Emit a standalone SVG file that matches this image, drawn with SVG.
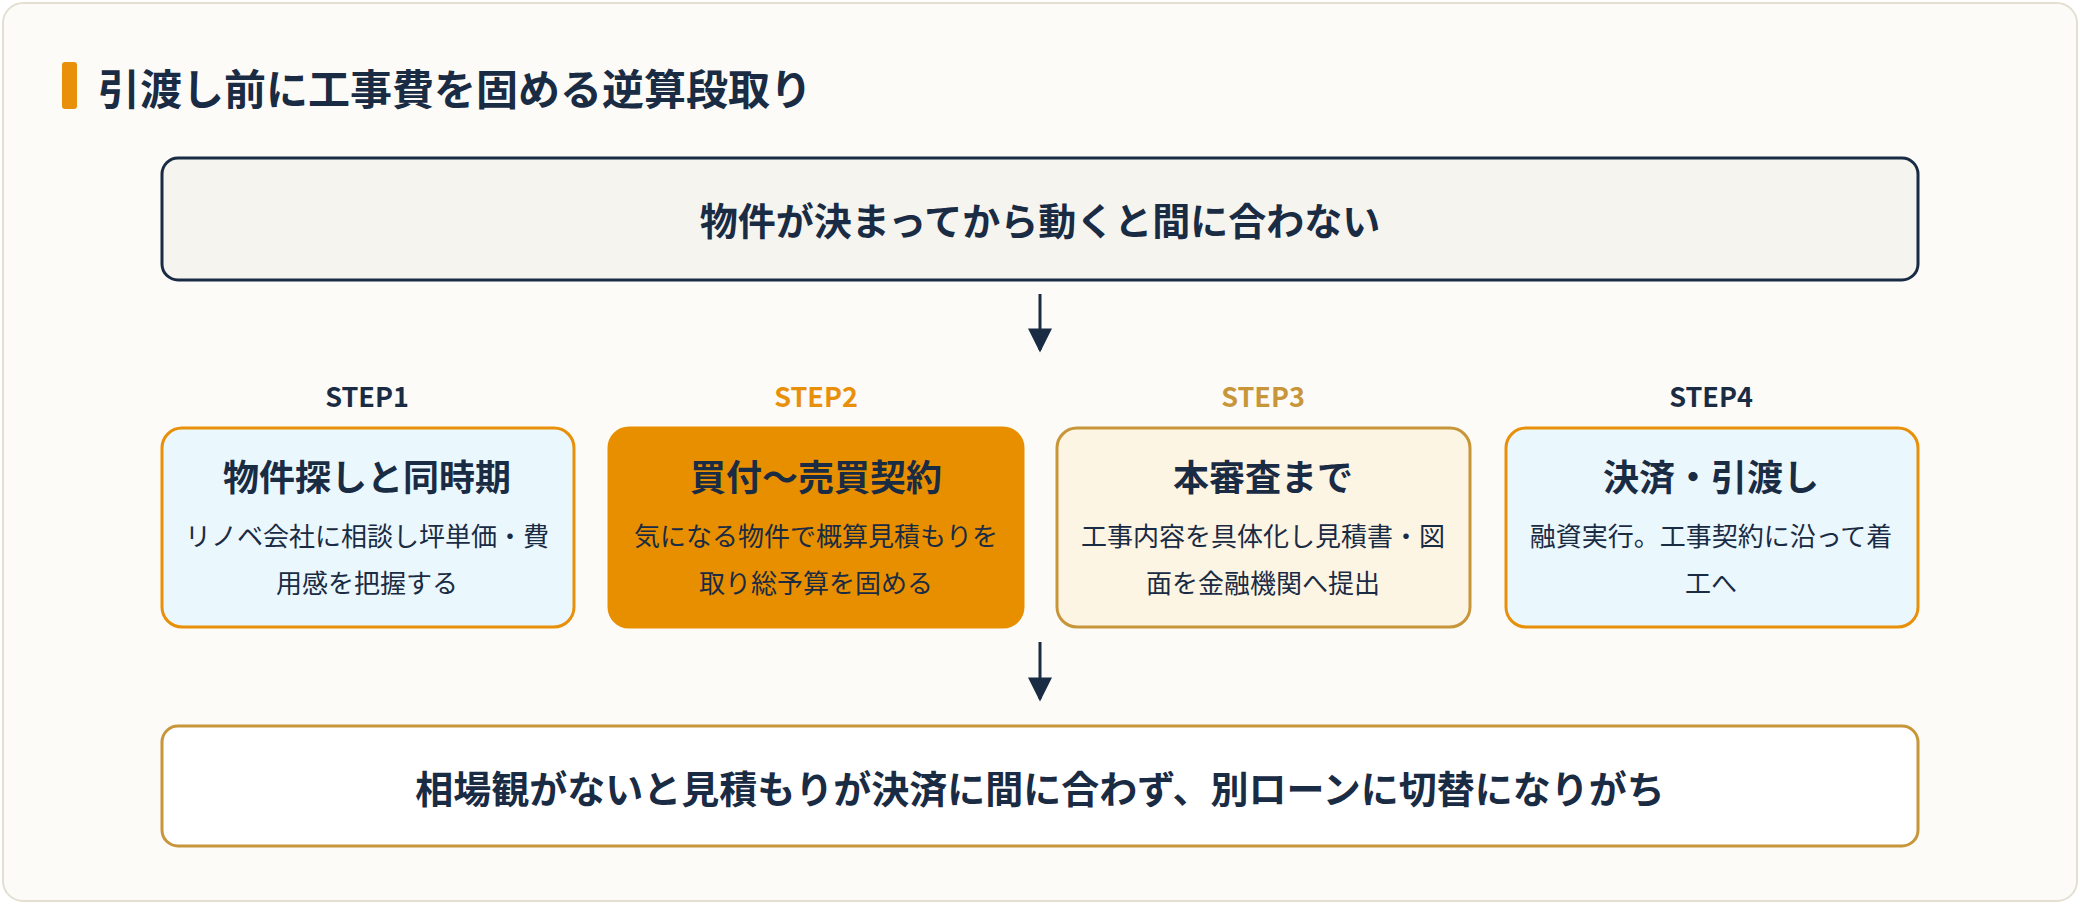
<svg xmlns="http://www.w3.org/2000/svg" width="2080" height="904" viewBox="0 0 2080 904">
<style>
text{font-family:"Noto Sans CJK JP","Noto Sans",sans-serif;fill:#1a2b44;text-anchor:middle}
.b{font-weight:700}
.t{font-size:36px;font-weight:700}
.d{font-size:26px}
.s{font-size:27px;font-weight:700}
.big{font-size:38px;font-weight:700}
</style>
<defs><marker id="a" viewBox="0 0 10 10" refX="9" refY="5" markerWidth="28" markerHeight="24" markerUnits="userSpaceOnUse" orient="auto"><path d="M0,0L10,5L0,10Z" fill="#1a2b44"/></marker></defs>
<rect x="3" y="3" width="2074" height="898" rx="20" fill="#fcfbf7" stroke="#e3e0d2" stroke-width="2"/>
<g id="title"><rect x="62" y="62" width="15" height="47" rx="3" fill="#e8900a"/>
<text x="98" y="105" class="b" style="font-size:42px;text-anchor:start">引渡し前に工事費を固める逆算段取り</text></g>
<g id="top"><rect x="162" y="158" width="1756" height="122" rx="16" fill="#f5f4ef" stroke="#1a2b44" stroke-width="3"/>
<text x="1040" y="235" class="big">物件が決まってから動くと間に合わない</text></g>
<g id="step1"><text x="367" y="407" class="s">STEP1</text>
<rect x="162" y="428" width="412" height="199" rx="20" fill="#eaf7fc" stroke="#e8900a" stroke-width="3"/>
<text x="367" y="491" class="t">物件探しと同時期</text>
<text x="367" y="546" class="d">リノベ会社に相談し坪単価・費</text><text x="367" y="593" class="d">用感を把握する</text></g>
<g id="step2"><text x="816" y="407" class="s" style="fill:#e8900a">STEP2</text>
<rect x="609" y="428" width="414" height="199" rx="20" fill="#e88f00" stroke="#e88f00" stroke-width="3"/>
<text x="816" y="491" class="t">買付〜売買契約</text>
<text x="816" y="546" class="d">気になる物件で概算見積もりを</text><text x="816" y="593" class="d">取り総予算を固める</text></g>
<g id="step3"><text x="1263" y="407" class="s" style="fill:#c8963a">STEP3</text>
<rect x="1057" y="428" width="413" height="199" rx="20" fill="#fdf5e4" stroke="#c8963a" stroke-width="3"/>
<text x="1263" y="491" class="t">本審査まで</text>
<text x="1263" y="546" class="d">工事内容を具体化し見積書・図</text><text x="1263" y="593" class="d">面を金融機関へ提出</text></g>
<g id="step4"><text x="1711" y="407" class="s">STEP4</text>
<rect x="1506" y="428" width="412" height="199" rx="20" fill="#eaf7fc" stroke="#e8900a" stroke-width="3"/>
<text x="1711" y="491" class="t">決済・引渡し</text>
<text x="1711" y="546" class="d">融資実行。工事契約に沿って着</text><text x="1711" y="593" class="d">工へ</text></g>
<g id="bottom"><rect x="162" y="726" width="1756" height="120" rx="16" fill="#ffffff" stroke="#c8963a" stroke-width="3"/>
<text x="1040" y="803" class="big">相場観がないと見積もりが決済に間に合わず、別ローンに切替になりがち</text></g>
<g id="connectors" stroke="#1a2b44" stroke-width="3" fill="none">
<line x1="1040" y1="294" x2="1040" y2="350" marker-end="url(#a)"/>
<line x1="1040" y1="642" x2="1040" y2="699" marker-end="url(#a)"/>
</g>
</svg>
